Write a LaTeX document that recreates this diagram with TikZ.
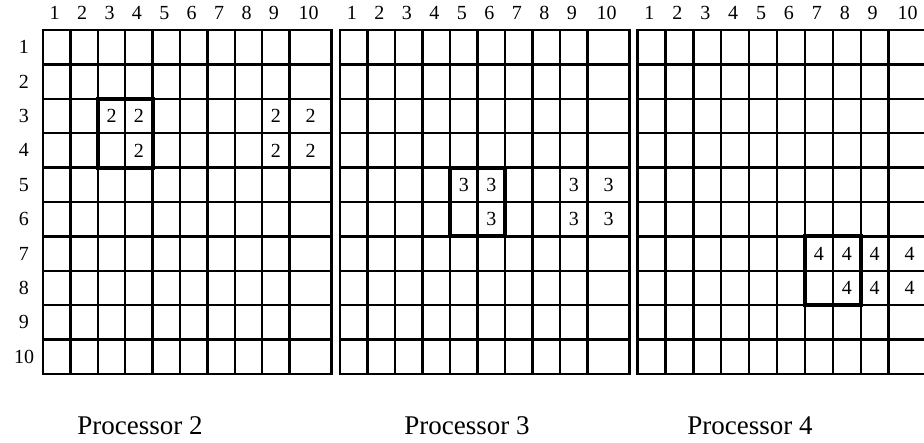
\documentclass[tikz,border=0pt]{standalone}
\usepackage{fontspec}
\setmainfont{Liberation Serif}
\begin{document}
\begin{tikzpicture}[x=1pt,y=-1pt,
  gridline/.style={line width=2.4pt, line cap=rect},
  thickbox/.style={line width=4pt, line cap=rect},
  lab/.style={inner sep=0pt, font=\fontsize{20}{20}\selectfont},
  cellnum/.style={inner sep=0pt, font=\fontsize{20}{20}\selectfont},
  proc/.style={inner sep=0pt, font=\fontsize{27}{27}\selectfont},
  declare function={colx(\gx,\cw,\j)=(\j<10) ? \gx+(\j-0.5)*\cw : \gx+9*\cw+21;
                    rowy(\r)=30+(\r-0.5)*34.4;}]
\useasboundingbox (0,0) rectangle (924,442);
% three grids (processors 2, 3, 4)
\foreach \gx/\cw/\g in {43/27.4/2, 340/27.5/3, 637.5/27.9/4}{
  \pgfmathsetmacro{\gr}{\gx+9*\cw+42}
  \foreach \k in {0,...,9}
    \draw[gridline] ({\gx+\k*\cw},30) -- ({\gx+\k*\cw},374);
  \draw[gridline] (\gr,30) -- (\gr,374);
  \foreach \k in {0,...,10}
    \draw[gridline] (\gx,{30+\k*34.4}) -- (\gr,{30+\k*34.4});
  \foreach \j in {1,...,9}
    \node[lab] (h\g-\j) at ({\gx+(\j-0.5)*\cw-2},13) {\j};
  \node[lab] (h\g-10) at ({\gx+9*\cw+19},13) {10};
  % highlighted 2x2 block
  \pgfmathsetmacro{\rz}{2*\g-1}
  \draw[thickbox] ({\gx+(\rz-1)*\cw},{30+(\rz-1)*34.4}) rectangle ({\gx+(\rz+1)*\cw},{30+(\rz+1)*34.4});
}
% row labels
\foreach \i in {1,...,10}
  \node[lab] (r\i) at (24,{rowy(\i)}) {\i};
% cell numbers
\foreach \gx/\cw/\g/\r/\c in {43/27.4/2/3/3, 340/27.5/3/5/5, 637.5/27.9/4/7/7}{
  \pgfmathtruncatemacro{\rb}{\r+1}
  \pgfmathtruncatemacro{\cb}{\c+1}
  \node[cellnum] (n\g-a) at ({colx(\gx,\cw,\c)},{rowy(\r)}) {\g};
  \node[cellnum] (n\g-b) at ({colx(\gx,\cw,\cb)},{rowy(\r)}) {\g};
  \node[cellnum] (n\g-c) at ({colx(\gx,\cw,\cb)},{rowy(\rb)}) {\g};
  \node[cellnum] (n\g-d) at ({colx(\gx,\cw,9)},{rowy(\r)}) {\g};
  \node[cellnum] (n\g-e) at ({colx(\gx,\cw,10)},{rowy(\r)}) {\g};
  \node[cellnum] (n\g-f) at ({colx(\gx,\cw,9)},{rowy(\rb)}) {\g};
  \node[cellnum] (n\g-g) at ({colx(\gx,\cw,10)},{rowy(\rb)}) {\g};
}
% processor labels
\node[proc] (p2) at (140,426) {Processor 2};
\node[proc] (p3) at (467,426) {Processor 3};
\node[proc] (p4) at (750,426) {Processor 4};
\end{tikzpicture}
\end{document}
